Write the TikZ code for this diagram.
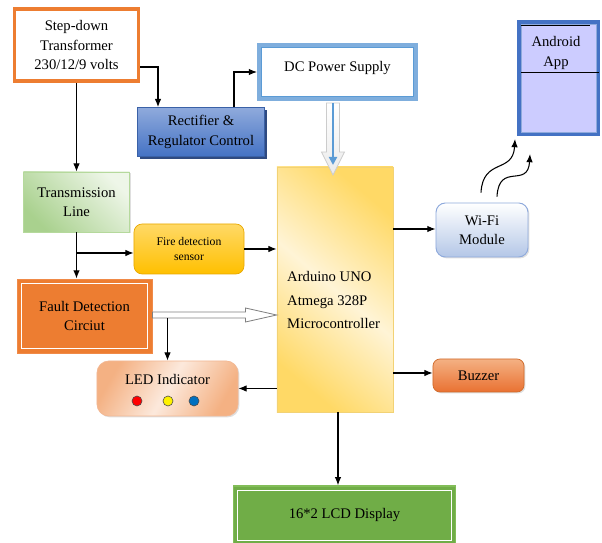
\documentclass[tikz,border=0pt]{standalone}
\usepackage{fontspec}
\setmainfont{Liberation Serif}
\usetikzlibrary{calc,arrows.meta,shadows}

\definecolor{orTr}{HTML}{ED7D31}
\definecolor{rcTop}{HTML}{8FAADC}
\definecolor{rcBot}{HTML}{4472C4}
\definecolor{rcShadow}{HTML}{2F4A80}
\definecolor{dcBlue}{HTML}{5B9BD5}
\definecolor{dcBand}{HTML}{7FAEDD}
\definecolor{appBlue}{HTML}{4472C4}
\definecolor{appInner}{HTML}{8FAADC}
\definecolor{appFill}{HTML}{CCCCFF}
\definecolor{tlDark}{HTML}{A9D18E}
\definecolor{tlLight}{HTML}{EEF6E8}
\definecolor{tlBorder}{HTML}{B5D99C}
\definecolor{fireTop}{HTML}{FFD966}
\definecolor{fireBot}{HTML}{FFC000}
\definecolor{fireBorder}{HTML}{E8A800}
\definecolor{faultFill}{HTML}{ED7D31}
\definecolor{faultBorder}{HTML}{F08A48}
\definecolor{mcDark}{HTML}{FFD966}
\definecolor{mcLight}{HTML}{FFF4D6}
\definecolor{mcBorder}{HTML}{F2D275}
\definecolor{wfBot}{HTML}{B4C7E7}
\definecolor{wfBorder}{HTML}{8FAADC}
\definecolor{bzTop}{HTML}{F4B183}
\definecolor{bzBot}{HTML}{E97132}
\definecolor{bzBorder}{HTML}{D06A2A}
\definecolor{ledDark}{HTML}{F4B183}
\definecolor{ledLight}{HTML}{FCE9DC}
\definecolor{ledBorder}{HTML}{F2B894}
\definecolor{ledblue}{HTML}{0070C0}
\definecolor{lcdFill}{HTML}{70AD47}
\definecolor{lcdBorder}{HTML}{82BD58}
\definecolor{arGray}{HTML}{808080}

\begin{document}
\begin{tikzpicture}[x=0.03cm, y=-0.03cm,
  box/.style={draw, inner sep=0pt, align=center, font=\fontsize{12.5}{16.5}\selectfont},
  arr/.style={-{Latex[length=7pt,width=5.5pt]}, line width=0.9pt},
  shade1/.style={drop shadow={shadow xshift=1.2pt, shadow yshift=-1.2pt, opacity=0.25}}]
  \useasboundingbox (0,0) rectangle (602,543);

  % blocks
  \node[box, draw=orTr, line width=3.4pt, fill=white, minimum width=3.72cm, minimum height=2.16cm] (tr) at (76.5,45) {Step-down\\Transformer\\230/12/9 volts};
  \node[box, draw=rcBot!85!black, line width=0.6pt, top color=rcTop, bottom color=rcBot,
        drop shadow={shadow xshift=2pt, shadow yshift=-2pt, fill=rcShadow, opacity=1},
        minimum width=3.81cm, minimum height=1.47cm] (rect) at (201,132) {Rectifier \&\\Regulator Control};
  \node[box, draw=dcBand, line width=3.4pt, fill=white, minimum width=4.71cm, minimum height=1.62cm] (dc) at (337.5,72) {\raisebox{0.36cm}{DC Power Supply}};
  \draw[dcBlue, line width=0.6pt] ($(dc.north west)+(4.5,4.5)$) rectangle ($(dc.south east)+(-4.5,-4.5)$);

  \node[box, draw=appBlue, line width=3.4pt, fill=appFill, minimum width=2.37cm, minimum height=3.36cm] (app) at (558.5,78) {};
  \draw[appInner, line width=0.6pt] ($(app.north west)+(4,4)$) rectangle ($(app.south east)+(-4,-4)$);
  \draw[line width=0.6pt] ($(app.north west)+(4,5)$) -- ($(app.north east)+(-10,5)$);
  \draw[line width=0.6pt] ($(app.west)+(4,-6)$) -- ($(app.east)+(-1,-6)$);
  \node[align=center, font=\fontsize{12.5}{17.5}\selectfont] (apptxt) at (556,53) {Android\\App};

  \node[box, draw=tlBorder, line width=0.6pt, top color=tlDark, bottom color=tlLight, shading angle=135, shade1,
        minimum width=3.18cm, minimum height=1.8cm] (tl) at (76.5,202) {Transmission\\Line};
  \node[box, draw=fireBorder, line width=0.6pt, rounded corners=7pt, top color=fireTop, bottom color=fireBot,
        font=\fontsize{10}{13}\selectfont, minimum width=3.3cm, minimum height=1.5cm] (fire) at (189,249) {Fire detection\\sensor};
  \node[box, draw=faultBorder, line width=0.8pt, fill=faultFill, minimum width=4.05cm, minimum height=2.22cm] (fd) at (84.5,316) {Fault Detection\\Circiut};
  \draw[white, line width=0.8pt] ($(fd.north west)+(5,5)$) rectangle ($(fd.south east)+(-5,-5)$);

  \node[box, draw=mcBorder, line width=0.6pt, top color=mcDark, bottom color=mcDark, middle color=mcLight, shading angle=-40, shade1,
        minimum width=3.48cm, minimum height=7.35cm] (mc) at (335,289.5) {};
  \node[anchor=west, align=left, inner sep=0pt, font=\fontsize{12.5}{20}\selectfont] (mctxt) at (287,300) {Arduino UNO\\Atmega 328P\\Microcontroller};

  \node[box, draw=wfBorder, line width=0.8pt, rounded corners=8pt, top color=white, bottom color=wfBot, shade1,
        minimum width=2.76cm, minimum height=1.62cm] (wifi) at (482,230) {Wi-Fi\\Module};
  \node[box, draw=bzBorder, line width=0.6pt, rounded corners=6pt, top color=bzTop, bottom color=bzBot, shade1,
        minimum width=2.73cm, minimum height=0.99cm] (bz) at (478.5,375.5) {Buzzer};
  \node[box, draw=ledBorder, line width=0.6pt, rounded corners=10pt, left color=ledDark, right color=ledDark, middle color=ledLight, shading angle=60, shade1,
        minimum width=4.23cm, minimum height=1.65cm] (led) at (167.5,388.5) {};
  \node[font=\fontsize{12.5}{16.5}\selectfont] (ledtxt) at (167.5,379) {LED Indicator};
  \foreach \xx/\cc in {137/red, 168/yellow, 194/ledblue}
    \filldraw[draw=black!70, fill=\cc, line width=0.5pt] (\xx,401) circle (1.5mm);

  \node[box, draw=lcdBorder, line width=1.2pt, fill=lcdFill, minimum width=6.65cm, minimum height=1.77cm] (lcd) at (344.5,515.5) {16*2 LCD Display};
  \draw[white, line width=0.8pt] ($(lcd.north west)+(5,5)$) rectangle ($(lcd.south east)+(-5,-5)$);

  % connectors
  \draw[arr] (tr) -- (tl);
  \draw[arr] ([yshift=-0.66cm]tr.east) -| ([xshift=-1.29cm]rect.north);
  \draw[arr] ([xshift=0.99cm]rect.north) |- (dc.west);

  % hollow power arrow
  \coordinate (pa) at ($(dc.south)+(-4.5,2)$);
  \draw[draw=black!20, line width=0.6pt, top color=white, bottom color=black!8]
    ($(pa)+(-6.5,0)$) -- ($(pa)+(-6.5,49)$) -- ($(pa)+(-11.5,49)$) -- ($(pa)+(0,72)$)
    -- ($(pa)+(11.5,49)$) -- ($(pa)+(6.5,49)$) -- ($(pa)+(6.5,0)$) -- cycle;
  \draw[dcBlue, line width=2.4pt, -{Triangle[length=7pt,width=7pt]}] (pa) -- ($(pa)+(0,62)$);

  \draw[arr] (tl.south) -- (tl.south |- fd.north);
  \draw[arr] ($(tl.south |- fire.west)+(0,4)$) -- ($(fire.west)+(0,4)$);
  \draw[arr] (fire.east) -- (fire.east -| mc.west);

  % hollow signal arrow
  \coordinate (fa) at ($(fd.east)+(0,-1)$);
  \draw[draw=arGray, line width=0.7pt, fill=white]
    ($(fa)+(0,-3)$) -- ($(fa)+(93,-3)$) -- ($(fa)+(93,-7)$) -- (fa -| mc.west)
    -- ($(fa)+(93,7)$) -- ($(fa)+(93,3)$) -- ($(fa)+(0,3)$) -- cycle;
  \draw[arr] ($(fa -| led.north)+(0,3)$) -- (led.north);

  \draw[arr] (mc.west |- led.east) -- (led.east);
  \draw[arr] ($(mc.east |- wifi.west)+(0,-1)$) -- ($(wifi.west)+(0,-1)$);
  \draw[arr] ($(mc.east |- bz.west)+(0,-2.5)$) -- ($(bz.west)+(0,-2.5)$);
  \coordinate (mcs) at ($(mc.south)+(3,0)$);
  \draw[arr] (mcs) -- (mcs |- lcd.north);

  % wireless link
  \coordinate (w1) at ($(wifi.north)+(-1,-10)$);
  \coordinate (w2) at ($(wifi.north)+(15,-6)$);
  \draw[arr] (w1) .. controls +(2,-35) and +(-2,35) .. ($(app.south west)+(-2,3)$);
  \draw[arr] (w2) .. controls +(2,-35) and +(-2,35) .. ($(app.south west)+(13,18)$);
\end{tikzpicture}
\end{document}
